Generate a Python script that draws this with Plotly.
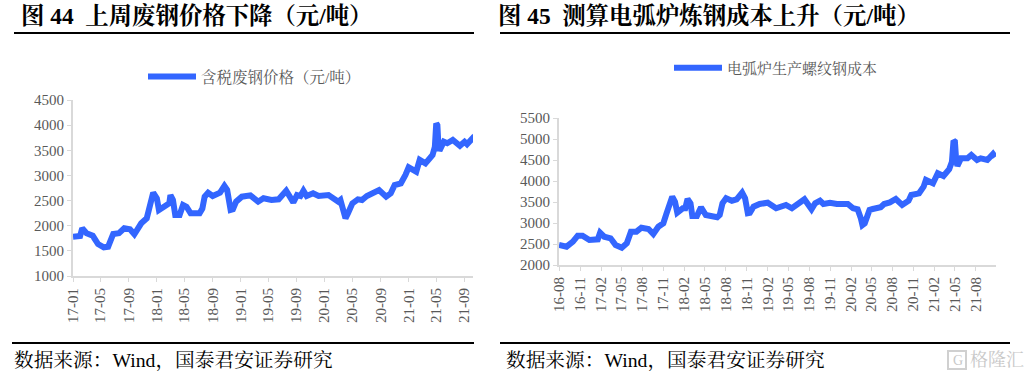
import plotly.graph_objects as go

scrap_dates = ["2017-01-01","2017-02-01","2017-02-10","2017-03-01","2017-03-28","2017-04-20","2017-05-15","2017-06-03","2017-06-25","2017-07-20","2017-08-12","2017-09-06","2017-09-25","2017-10-25","2017-11-18","2017-12-02","2017-12-16","2018-01-01","2018-01-10","2018-02-06","2018-02-24","2018-03-01","2018-03-12","2018-03-22","2018-04-10","2018-04-25","2018-05-10","2018-05-28","2018-07-06","2018-07-18","2018-07-28","2018-08-12","2018-09-01","2018-10-03","2018-10-22","2018-11-03","2018-11-18","2018-11-28","2018-12-12","2019-01-06","2019-02-12","2019-03-18","2019-04-10","2019-05-15","2019-06-15","2019-07-18","2019-08-18","2019-09-03","2019-09-18","2019-10-01","2019-10-15","2019-11-12","2019-12-06","2020-01-18","2020-02-10","2020-03-01","2020-03-10","2020-03-25","2020-04-01","2020-04-12","2020-05-01","2020-05-25","2020-06-12","2020-07-03","2020-08-03","2020-08-25","2020-09-25","2020-10-15","2020-11-01","2020-11-28","2020-12-18","2021-01-01","2021-02-03","2021-02-18","2021-03-15","2021-04-15","2021-04-25","2021-05-01","2021-05-06","2021-05-10","2021-05-15","2021-06-03","2021-06-18","2021-07-12","2021-08-12","2021-09-01","2021-09-12","2021-10-01","2021-10-06"]
scrap_values = [1780,1795,1948,1850,1800,1636,1570,1583,1835,1850,1948,1928,1830,2048,2147,2478,2656,2545,2312,2392,2445,2610,2511,2213,2213,2412,2378,2247,2247,2340,2577,2656,2590,2656,2790,2710,2312,2325,2478,2577,2604,2478,2545,2511,2525,2696,2465,2610,2590,2696,2590,2644,2590,2610,2545,2478,2511,2247,2147,2247,2445,2525,2511,2590,2644,2710,2577,2644,2810,2843,3008,3160,3075,3310,3240,3405,3570,4035,4000,3640,3490,3670,3640,3705,3590,3670,3620,3715,3650]

eaf_dates = ["2016-08-01","2016-09-03","2016-10-01","2016-10-22","2016-11-12","2016-12-12","2017-01-18","2017-01-28","2017-02-15","2017-03-15","2017-04-06","2017-05-03","2017-05-25","2017-06-12","2017-07-06","2017-07-28","2017-08-28","2017-09-18","2017-10-10","2017-11-01","2017-11-15","2017-12-01","2017-12-10","2017-12-22","2018-01-01","2018-01-25","2018-02-05","2018-02-15","2018-02-28","2018-03-08","2018-03-28","2018-04-15","2018-05-06","2018-06-25","2018-07-06","2018-07-18","2018-08-03","2018-08-28","2018-09-18","2018-10-12","2018-10-25","2018-11-06","2018-11-15","2018-12-01","2018-12-28","2019-02-01","2019-03-10","2019-04-22","2019-05-18","2019-07-12","2019-08-01","2019-08-12","2019-08-28","2019-09-18","2019-10-03","2019-11-01","2019-12-01","2020-01-18","2020-02-10","2020-03-01","2020-03-15","2020-03-22","2020-04-01","2020-04-22","2020-05-06","2020-05-28","2020-06-10","2020-06-25","2020-07-20","2020-08-15","2020-09-12","2020-10-10","2020-10-22","2020-11-25","2020-12-15","2020-12-25","2021-01-25","2021-02-15","2021-03-12","2021-04-06","2021-04-18","2021-04-25","2021-05-01","2021-05-06","2021-05-12","2021-05-28","2021-06-25","2021-07-12","2021-08-06","2021-08-22","2021-09-20","2021-10-15","2021-10-25"]
eaf_values = [2476,2436,2555,2698,2698,2595,2612,2770,2674,2636,2476,2412,2516,2793,2793,2888,2857,2738,2912,2993,3231,3548,3626,3507,3245,3350,3350,3571,3469,3167,3167,3374,3190,3136,3190,3469,3588,3531,3564,3721,3588,3231,3240,3388,3452,3483,3350,3429,3350,3564,3405,3326,3469,3531,3452,3483,3452,3452,3350,3326,3112,2952,2993,3310,3333,3352,3375,3452,3490,3571,3429,3531,3667,3707,3864,4024,3945,4183,4119,4279,4460,4960,4936,4540,4357,4540,4540,4619,4500,4540,4500,4643,4571]

scrap_ticks = ["2017-01-01","2017-05-01","2017-09-01","2018-01-01","2018-05-01","2018-09-01","2019-01-01","2019-05-01","2019-09-01","2020-01-01","2020-05-01","2020-09-01","2021-01-01","2021-05-01","2021-09-01"]
scrap_labels = ["17-01","17-05","17-09","18-01","18-05","18-09","19-01","19-05","19-09","20-01","20-05","20-09","21-01","21-05","21-09"]
eaf_ticks = ["2016-08-01","2016-11-01","2017-02-01","2017-05-01","2017-08-01","2017-11-01","2018-02-01","2018-05-01","2018-08-01","2018-11-01","2019-02-01","2019-05-01","2019-08-01","2019-11-01","2020-02-01","2020-05-01","2020-08-01","2020-11-01","2021-02-01","2021-05-01","2021-08-01"]
eaf_labels = ["16-08","16-11","17-02","17-05","17-08","17-11","18-02","18-05","18-08","18-11","19-02","19-05","19-08","19-11","20-02","20-05","20-08","20-11","21-02","21-05","21-08"]
scrap_y_ticks = [1000,1500,2000,2500,3000,3500,4000,4500]
eaf_y_ticks = [2000,2500,3000,3500,4000,4500,5000,5500]

W, H = 1025, 376
FONT = "Liberation Serif, Noto Serif CJK SC, Noto Sans CJK SC"
BLUE = "#3366FF"
AXIS = "#D9D9D9"
TICK = "#595959"

def fx(px):
    return px / W

def fy(py):
    return 1 - py / H

fig = go.Figure()
fig.add_trace(go.Scatter(x=scrap_dates, y=scrap_values, mode="lines", name="含税废钢价格（元/吨）",
                         line=dict(color=BLUE, width=6), xaxis="x", yaxis="y", legend="legend"))
fig.add_trace(go.Scatter(x=eaf_dates, y=eaf_values, mode="lines", name="电弧炉生产螺纹钢成本",
                         line=dict(color=BLUE, width=6), xaxis="x2", yaxis="y2", legend="legend2"))

def xaxis(domain, rng, vals, labels, anchor):
    return dict(domain=[fx(domain[0]), fx(domain[1])], range=rng, type="date", tickmode="array", tickvals=vals,
                ticktext=labels, tickangle=-90, showgrid=False, zeroline=False, showline=True,
                linecolor=AXIS, linewidth=2, ticks="outside", ticklen=4, tickcolor=AXIS, tickwidth=1,
                tickfont=dict(family=FONT, size=15, color=TICK), anchor=anchor)

def yaxis(top, bottom, rng, vals, anchor):
    return dict(domain=[fy(bottom), fy(top)], range=rng, tickmode="array", tickvals=vals, showgrid=False,
                zeroline=False, showline=True, linecolor=AXIS, linewidth=2, ticks="outside", ticklen=4,
                tickcolor=AXIS, tickwidth=1, tickfont=dict(family=FONT, size=15, color=TICK), anchor=anchor)

def rule(x0, x1, y):
    return dict(type="line", xref="paper", yref="paper", x0=fx(x0), x1=fx(x1), y0=fy(y), y1=fy(y),
                line=dict(color="black", width=2))

def text(x, y, s, size, color="black", bold=False):
    return dict(xref="paper", yref="paper", x=fx(x), y=fy(y), xanchor="left", yanchor="middle", showarrow=False,
                text=f"<b>{s}</b>" if bold else s, font=dict(family=FONT, size=size, color=color))

def legend(x, y, size):
    return dict(x=fx(x), y=fy(y), xanchor="left", yanchor="middle", orientation="h", itemwidth=48,
                bgcolor="rgba(0,0,0,0)", font=dict(family=FONT, size=size, color=TICK))

fig.update_layout(
    width=W, height=H, margin=dict(l=0, r=0, t=0, b=0, pad=0, autoexpand=False), paper_bgcolor="white", plot_bgcolor="white",
    showlegend=True,
    xaxis=xaxis((73, 473), ["2017-01-01", "2021-10-08"], scrap_ticks, scrap_labels, "y"),
    yaxis=yaxis(100, 276, [1000, 4500], scrap_y_ticks, "x"),
    xaxis2=xaxis((559, 996), ["2016-08-01", "2021-10-28"], eaf_ticks, eaf_labels, "y2"),
    yaxis2=yaxis(118, 265, [2000, 5500], eaf_y_ticks, "x2"),
    legend=legend(143, 77, 15.5),
    legend2=legend(669, 68, 15),
    shapes=[rule(14, 474, 33), rule(12, 474, 343), rule(500, 1010, 33), rule(500, 1010, 343),
            dict(type="rect", xref="paper", yref="paper", x0=fx(948), x1=fx(966), y0=fy(369), y1=fy(351),
                 line=dict(color="#D0D0D0", width=2))],
    annotations=[
        text(19, 16, "图 44  上周废钢价格下降（元/吨）", 23.4, bold=True),
        text(496, 16, "图 45  测算电弧炉炼钢成本上升（元/吨）", 23.4, bold=True),
        text(12, 360, "数据来源：Wind，国泰君安证券研究", 19.7),
        text(504, 360, "数据来源：Wind，国泰君安证券研究", 19.7),
        text(951, 360, "G", 14, color="#C8C8C8"),
        text(968, 360, "格隆汇", 18, color="#C8C8C8"),
    ],
)

fig.write_html("out.html", config={"displayModeBar": False}, post_script="document.body.style.margin='0';")
